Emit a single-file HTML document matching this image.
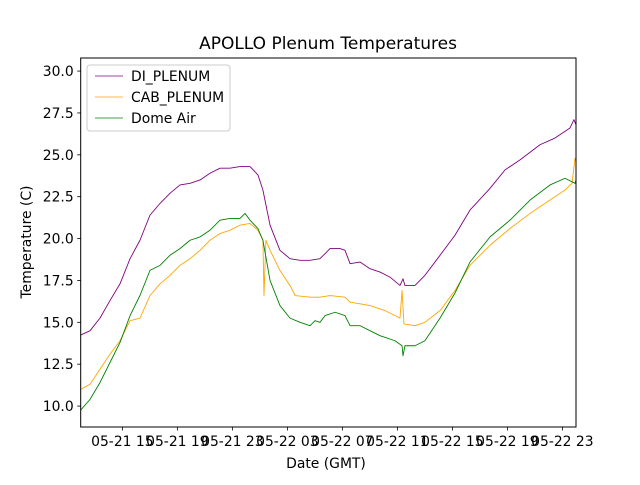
<!DOCTYPE html>
<html><head><meta charset="utf-8"><style>
body{margin:0;background:#fff}
svg text{font-family:"DejaVu Sans","Liberation Sans",sans-serif;fill:#000}
</style></head><body>
<svg id="chart" width="640" height="480" xmlns="http://www.w3.org/2000/svg">
<rect width="640" height="480" fill="#fff"/>
<text x="328" y="49" font-size="17" text-anchor="middle">APOLLO Plenum Temperatures</text>
<text x="326" y="468" font-size="13.9" text-anchor="middle">Date (GMT)</text>
<text transform="translate(31,242) rotate(-90)" font-size="13.9" text-anchor="middle">Temperature (C)</text>
<g id="plot"></g>
<rect x="80.7" y="58" width="495.3" height="369" fill="none" stroke="#000" stroke-width="1"/>
<g>
<rect x="87" y="65" width="143" height="66" rx="3" fill="#fff" fill-opacity="0.8" stroke="#ccc"/>
<line x1="95" y1="76" x2="123" y2="76" stroke="purple" stroke-width="0.8"/>
<text x="131" y="81" font-size="13.9">DI_PLENUM</text>
<line x1="95" y1="97" x2="123" y2="97" stroke="orange" stroke-width="0.8"/>
<text x="131" y="102" font-size="13.9">CAB_PLENUM</text>
<line x1="95" y1="118" x2="123" y2="118" stroke="green" stroke-width="0.8"/>
<text x="131" y="123" font-size="13.9">Dome Air</text>
</g>
</svg>
<script>
const xTickHours=[15,19,23,27,31,35,39,43,47];
const xTickLabels=["05-21 15","05-21 19","05-21 23","05-22 03","05-22 07","05-22 11","05-22 15","05-22 19","05-22 23"];
const yTicks=[10,12.5,15,17.5,20,22.5,25,27.5,30];
const diT=[11.97,12.65,13.37,14.1,14.83,15.56,16.28,17.01,17.74,18.46,19.19,19.92,20.65,21.37,22.1,22.83,23.55,24.28,24.86,25.22,25.74,26.46,27.19,27.92,28.65,29.37,29.74,30.1,30.83,31.19,31.56,32.28,33.01,33.74,34.46,35.19,35.41,35.55,36.28,37.0,38.1,39.19,40.28,41.74,42.83,43.92,45.37,46.46,47.55,47.84,47.99];
const diV=[14.24,14.5,15.25,16.3,17.3,18.8,19.9,21.4,22.1,22.7,23.2,23.3,23.5,23.9,24.2,24.2,24.3,24.3,23.8,22.9,20.8,19.3,18.8,18.7,18.7,18.8,19.1,19.4,19.4,19.3,18.5,18.6,18.2,18.0,17.7,17.2,17.6,17.2,17.2,17.8,19.0,20.2,21.7,23.0,24.1,24.7,25.6,26.0,26.6,27.1,26.8];
const cabT=[11.97,12.65,13.37,14.1,14.83,15.56,16.28,17.01,17.74,18.46,19.19,19.92,20.65,21.37,22.1,22.83,23.55,24.28,24.86,25.22,25.3,25.44,25.74,26.46,27.19,27.56,28.65,29.37,30.1,31.19,31.56,33.01,34.1,34.83,35.19,35.34,35.48,36.28,37.0,38.1,39.19,40.28,41.74,43.19,44.65,46.1,47.19,47.7,47.92,47.99];
const cabV=[11.0,11.3,12.2,13.1,13.9,15.1,15.25,16.6,17.3,17.8,18.4,18.8,19.3,19.9,20.3,20.5,20.8,20.9,20.5,19.9,16.6,19.9,19.3,18.1,17.2,16.6,16.5,16.5,16.6,16.5,16.2,16.0,15.7,15.4,15.25,16.9,14.9,14.8,15.0,15.7,16.9,18.4,19.6,20.6,21.5,22.3,22.9,23.3,24.8,24.6];
const domeT=[11.97,12.65,13.37,14.1,14.83,15.56,16.28,17.01,17.74,18.46,19.19,19.92,20.65,21.37,22.1,22.83,23.55,23.92,24.28,24.86,25.22,25.74,26.46,27.19,27.92,28.65,29.01,29.37,29.74,30.47,31.19,31.56,32.28,33.01,33.74,34.83,35.34,35.41,35.55,36.28,37.0,38.1,39.19,40.28,41.74,43.19,44.65,46.1,47.19,47.92,47.99];
const domeV=[9.76,10.4,11.4,12.6,13.8,15.4,16.6,18.1,18.4,19.0,19.4,19.9,20.1,20.5,21.1,21.2,21.2,21.5,21.1,20.6,19.9,17.5,16.0,15.25,15.0,14.8,15.1,15.0,15.4,15.6,15.4,14.8,14.8,14.5,14.2,13.9,13.6,13.0,13.6,13.6,13.9,15.25,16.75,18.6,20.1,21.1,22.3,23.2,23.6,23.3,23.5];

const L=80.7,R=576,T=58,B=427,h0=11.97,h1=47.99,y0=8.75,y1=30.78;
const sx=h=>L+(h-h0)/(h1-h0)*(R-L);
const sy=v=>B-(v-y0)/(y1-y0)*(B-T);
const NS="http://www.w3.org/2000/svg";
const svg=document.getElementById('chart');
const plot=document.getElementById('plot');
function mk(tag,attrs,parent){const e=document.createElementNS(NS,tag);for(const k in attrs)e.setAttribute(k,attrs[k]);parent.appendChild(e);return e;}
xTickHours.forEach((h,i)=>{
  const x=sx(h);
  const t=mk('line',{x1:x,x2:x,y1:B,y2:B+3.5,stroke:'#000','stroke-width':0.8},svg);
  
  
  const l=mk('text',{x:x,y:B+19,'font-size':13.9,'text-anchor':'middle'},svg);
  l.textContent=xTickLabels[i];
  
  
});
yTicks.forEach(v=>{
  const y=sy(v);
  const t=mk('line',{x1:L-3.5,x2:L,y1:y,y2:y,stroke:'#000','stroke-width':0.8},svg);
  
  
  const l=mk('text',{x:L-7,y:y+5,'font-size':13.9,'text-anchor':'end'},svg);
  l.textContent=v.toFixed(1);
  
  
});
function series(ts,vs,color,name){
  const d=ts.map((t,i)=>(i?'L':'M')+sx(t).toFixed(2)+','+sy(vs[i]).toFixed(2)).join('');
  const p=mk('path',{d:d,fill:'none',stroke:color,'stroke-width':0.9,'stroke-linejoin':'round'},plot);
  
  
}
series(diT,diV,'purple','di-plenum-line');
series(cabT,cabV,'orange','cab-plenum-line');
series(domeT,domeV,'green','dome-air-line');
</script>
</body></html>
